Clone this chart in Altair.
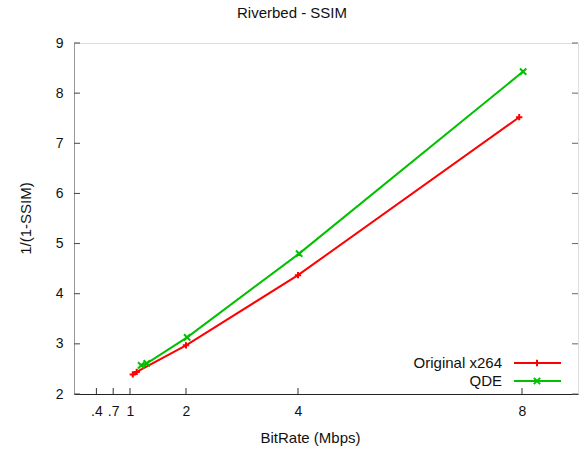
import altair as alt
import pandas as pd

# Rate-quality points for each encoder
orig_rate = [1.05, 1.12, 2.0, 4.0, 7.95]
orig_q = [2.39, 2.44, 2.97, 4.37, 7.52]
qde_rate = [1.2, 1.3, 2.02, 4.02, 8.02]
qde_q = [2.57, 2.61, 3.13, 4.80, 8.43]

series = ["Original x264", "QDE"]
colors = ["#ff0000", "#00c000"]
shapes = ["M-1,0L1,0M0,-1L0,1", "M-1,-1L1,1M-1,1L1,-1"]

x_ticks = [0.4, 0.7, 1, 2, 4, 8]
x_tick_labels = [".4", ".7", "1", "2", "4", "8"]
y_ticks = [2, 3, 4, 5, 6, 7, 8, 9]

W, H = 504, 351
FONT = "Liberation Sans"
TXT = 15
LBL = 14

df = pd.DataFrame(
    {"rate": orig_rate, "q": orig_q, "enc": series[0]}
)
df = pd.concat([df, pd.DataFrame({"rate": qde_rate, "q": qde_q, "enc": series[1]})])

label_expr = "".join(
    f"datum.value == {v} ? '{t}' : " for v, t in zip(x_ticks, x_tick_labels)
) + "datum.label"

xs = alt.Scale(domain=[0, 9], nice=False, zero=False)
ys = alt.Scale(domain=[2, 9], nice=False, zero=False)
cs = alt.Scale(domain=series, range=colors)

x_enc = alt.X(
    "rate:Q", scale=xs,
    axis=alt.Axis(
        values=x_ticks, labelExpr=label_expr, grid=False, ticks=False,
        domainColor="#222", labelPadding=10, labelFontSize=LBL, labelFont=FONT,
        labelColor="#111", title="BitRate (Mbps)", titleFont=FONT,
        titleFontSize=TXT, titleFontWeight="normal", titleColor="#111",
        titleX=236, titleY=43, titleBaseline="middle",
    ),
)
y_enc = alt.Y(
    "q:Q", scale=ys,
    axis=alt.Axis(
        values=y_ticks, format="d", grid=False, ticks=False,
        domainColor="#999", labelPadding=11, labelFontSize=LBL, labelFont=FONT,
        labelColor="#111", title="1/(1-SSIM)", titleFont=FONT,
        titleFontSize=TXT, titleFontWeight="normal", titleColor="#111",
        titleX=-49, titleY=175, titleAngle=-90, titleAlign="center",
        titleBaseline="middle",
    ),
)

lines = alt.Chart(df).mark_line(strokeWidth=2).encode(
    x=x_enc, y=y_enc,
    color=alt.Color("enc:N", scale=cs, legend=None),
    detail="enc:N",
)

pts = alt.Chart(df).mark_point(filled=False, strokeWidth=2, size=40, opacity=1).encode(
    x="rate:Q", y="q:Q",
    color=alt.Color("enc:N", scale=cs, legend=None),
    shape=alt.Shape("enc:N", scale=alt.Scale(domain=series, range=shapes), legend=None),
)

# inward tick marks on left, right and bottom
ydf = pd.DataFrame({"v": y_ticks})
xdf = pd.DataFrame({"v": x_ticks})
ytick_l = alt.Chart(ydf).mark_rule(color="#444", strokeWidth=1).encode(
    y=alt.Y("v:Q", scale=ys), x=alt.value(0), x2=alt.value(6))
ytick_r = alt.Chart(ydf).mark_rule(color="#666", strokeWidth=1).encode(
    y=alt.Y("v:Q", scale=ys), x=alt.value(W - 6), x2=alt.value(W))
xtick_b = alt.Chart(xdf).mark_rule(color="#333", strokeWidth=1).encode(
    x=alt.X("v:Q", scale=xs), y=alt.value(H), y2=alt.value(H - 6))

# key in the lower right corner
leg = pd.DataFrame({"enc": series, "row": [0, 1]})
key_y = [320, 338]
leg["ty"] = key_y
leg_text = alt.Chart(leg).mark_text(
    align="right", baseline="middle", fontSize=TXT, font=FONT, color="#111"
).encode(text="enc:N", x=alt.value(428), y=alt.Y("ty:Q", scale=None))
leg_line = alt.Chart(leg).mark_rule(strokeWidth=2).encode(
    x=alt.value(440), x2=alt.value(487), y=alt.Y("ty:Q", scale=None),
    color=alt.Color("enc:N", scale=cs, legend=None))
leg_pt = alt.Chart(leg).mark_point(filled=False, strokeWidth=2, size=40, opacity=1).encode(
    x=alt.value(463), y=alt.Y("ty:Q", scale=None),
    color=alt.Color("enc:N", scale=cs, legend=None),
    shape=alt.Shape("enc:N", scale=alt.Scale(domain=series, range=shapes), legend=None))

chart = alt.layer(
    ytick_l, ytick_r, xtick_b, lines, pts, leg_line, leg_pt, leg_text
).resolve_scale(y="shared").properties(
    width=W, height=H,
    autosize=alt.AutoSizeParams(type="none"),
    padding={"left": 74, "top": 43, "right": 3, "bottom": 56},
    title=alt.TitleParams(
        "Riverbed - SSIM", font=FONT, fontSize=TXT, fontWeight="normal",
        color="#111", anchor="middle", dx=-34, offset=15,
    ),
).configure_view(stroke="#222", strokeWidth=1).configure(background="white")

chart.save("out.html", embed_options={"renderer": "svg", "actions": False})
